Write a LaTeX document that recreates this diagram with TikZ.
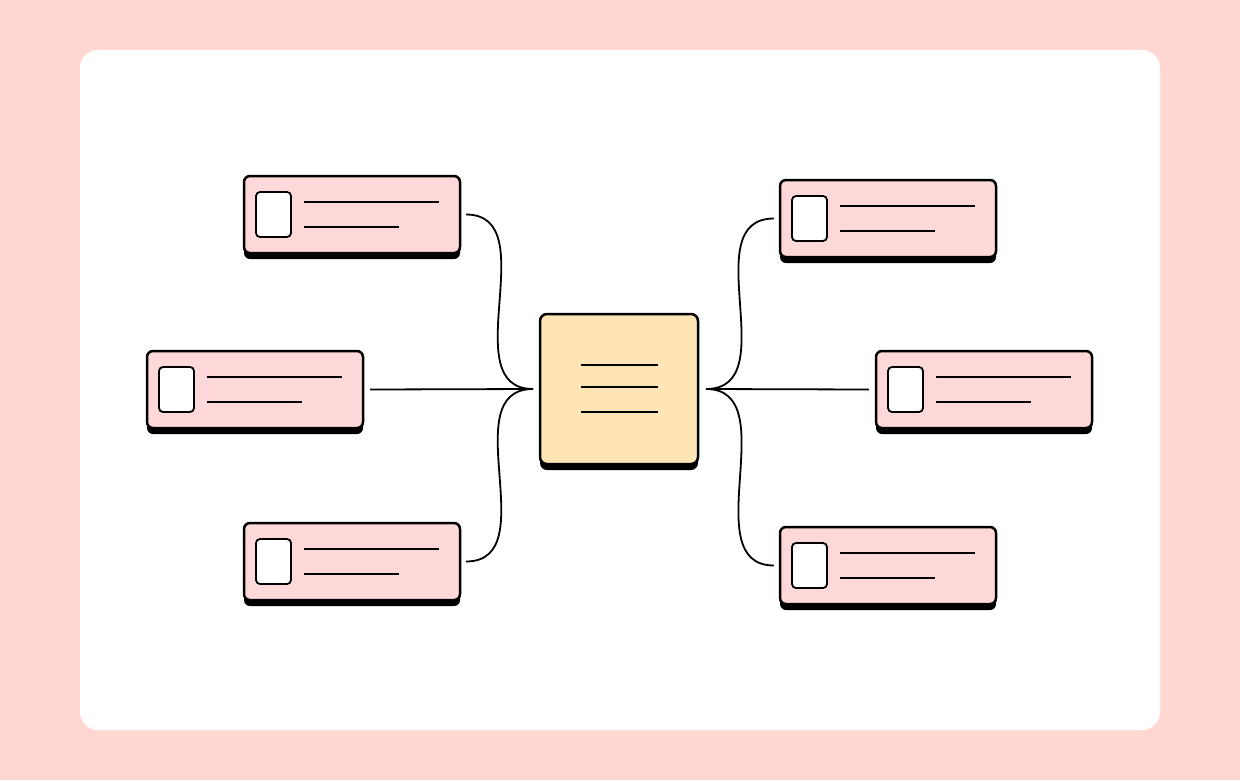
\documentclass[tikz,border=0pt]{standalone}
\usetikzlibrary{calc,shadows}
\definecolor{bgpink}{HTML}{FFD7D1}
\definecolor{cardpink}{HTML}{FFD9D9}
\definecolor{centeryel}{HTML}{FFE5B4}
\tikzset{
  card/.style={draw=black, line width=2.5pt, fill=cardpink, rounded corners=6pt,
    minimum width=216pt, minimum height=77pt, inner sep=0pt, outer sep=0pt,
    drop shadow={shadow xshift=0pt, shadow yshift=-6pt, fill=black, opacity=1}},
  hub/.style={draw=black, line width=2.5pt, fill=centeryel, rounded corners=7pt,
    minimum width=158pt, minimum height=150pt, inner sep=0pt, outer sep=0pt,
    drop shadow={shadow xshift=0pt, shadow yshift=-6pt, fill=black, opacity=1}},
  inbox/.style={draw=black, line width=1.8pt, fill=white, rounded corners=4pt},
  inline/.style={line width=2.5pt, line cap=butt},
  conn/.style={line width=1.8pt},
}
\newcommand\mycard[3]{%
  \node[card] (#1) at ({#2+109},{#3+39.5}) {};
  \draw[inbox] ($(#1.north west)+(12,16)$) rectangle ($(#1.north west)+(47,61)$);
  \draw[inline] ($(#1.north west)+(60,26)$) -- +(135,0);
  \draw[inline] ($(#1.north west)+(60,51)$) -- +(95,0);
}
\begin{document}
\begin{tikzpicture}[x=1pt,y=-1pt]
\useasboundingbox (0,0) rectangle (1240,780);
\fill[bgpink] (0,0) rectangle (1240,780);
\fill[white, rounded corners=18pt] (80,50) rectangle (1160,730);

\mycard{tl}{243}{175}
\mycard{ml}{146}{350}
\mycard{bl}{243}{522}
\mycard{tr}{779}{179}
\mycard{mr}{875}{350}
\mycard{br}{779}{526}

\node[hub] (hub) at (619,389) {};
\draw[inline] ($(hub.center)+(-38.5,-24)$) -- +(77,0);
\draw[inline] ($(hub.center)+(-38.5,-2)$) -- +(77,0);
\draw[inline] ($(hub.center)+(-38.5,23)$) -- +(77,0);

\coordinate (jl) at ($(hub.west)+(-7,0)$);
\coordinate (jr) at ($(hub.east)+(8,0)$);

\draw[conn] ($(tl.east)+(6,0)$) .. controls +(80,0) and +(-80,0) .. (jl);
\draw[conn] ($(bl.east)+(6,0)$) .. controls +(80,0) and +(-80,0) .. (jl);
\draw[conn] ($(ml.east)+(7,0)$) -- (jl);
\draw[conn] (jr) .. controls +(80,0) and +(-80,0) .. ($(tr.west)+(-6,0)$);
\draw[conn] (jr) .. controls +(80,0) and +(-80,0) .. ($(br.west)+(-6,0)$);
\draw[conn] (jr) -- ($(mr.west)+(-7,0)$);
\end{tikzpicture}
\end{document}
